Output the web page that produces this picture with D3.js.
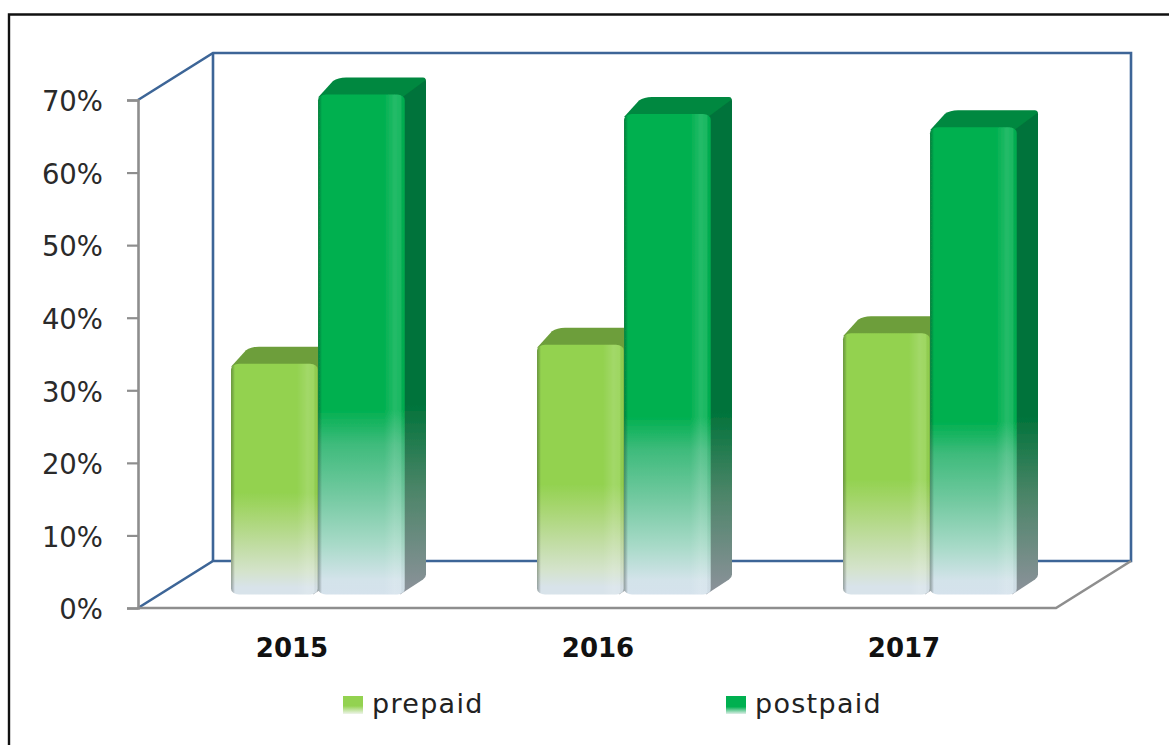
<!DOCTYPE html>
<html><head><meta charset="utf-8">
<script src="https://cdn.jsdelivr.net/npm/d3@7/dist/d3.min.js"></script>
<style>html,body{margin:0;padding:0;background:#fff}svg{display:block}</style>
</head><body><div id="c"></div>
<script>
const years = ["2015","2016","2017"];
const seriesNames = ["prepaid","postpaid"];
const prepaid = [31.8,34.4,36.0];
const postpaid = [68.9,66.2,64.4];
const yTicks = [0,10,20,30,40,50,60,70];

const W=1169,H=745;
const svg=d3.select("#c").append("svg").attr("width",W).attr("height",H);
const defs=svg.append("defs");

// layout
const plotL=138,plotR=1056,plotB=608,plotT=100;
const wallDX=75,wallDY=-47;        // depth of the chart box
const barDX=21,barDY=-17;          // depth of a column
const barShiftX=27;                // columns sit inside the box
const barBase=594.5;

const x=d3.scaleBand().domain(years).range([plotL,plotR]);
const y=d3.scaleLinear().domain([0,70]).range([plotB,plotT]);
const yBar=d3.scaleLinear().domain([0,70]).range([barBase,barBase-(plotB-plotT)]);
const xSub=d3.scaleBand().domain(seriesNames).range([66,240]);

// gradients
function vgrad(id,stops){
  const g=defs.append("linearGradient").attr("id",id).attr("x1",0).attr("y1",0).attr("x2",0).attr("y2",1);
  stops.forEach(s=>g.append("stop").attr("offset",s[0]).attr("stop-color",s[1]));
}
vgrad("face-prepaid",[[0,"#93d250"],[.56,"#93d250"],[.66,"#a8d672"],[.78,"#bfdc9f"],[.9,"#d4e3cb"],[.97,"#d8e3ea"],[1,"#d8e3ea"]]);
vgrad("face-postpaid",[[0,"#00b050"],[.63,"#00b050"],[.7,"#3fbb7c"],[.8,"#72c9a0"],[.9,"#a8dac8"],[.97,"#d3e3ea"],[1,"#d5e2ec"]]);
vgrad("side-prepaid",[[0,"#6d9e3a"],[.56,"#6d9e3a"],[1,"#8f959c"]]);
vgrad("side-postpaid",[[0,"#00733a"],[.63,"#00733a"],[.8,"#4d8569"],[1,"#8d929b"]]);
vgrad("leg-prepaid",[[0,"#93d250"],[.55,"#93d250"],[1,"#eef4ea"]]);
vgrad("leg-postpaid",[[0,"#00b050"],[.6,"#00b050"],[1,"#dfeee8"]]);
const sh=defs.append("linearGradient").attr("id","shade").attr("x1",0).attr("x2",1).attr("y1",0).attr("y2",0);
[[0,"#2c3a2c",.38],[.045,"#000",0],[.76,"#fff",0],[.88,"#fff",.14],[.95,"#fff",.1],[.985,"#000",.02],[1,"#2c3a2c",.22]]
 .forEach(s=>sh.append("stop").attr("offset",s[0]).attr("stop-color",s[1]).attr("stop-opacity",s[2]));
const blur=defs.append("filter").attr("id","soft").attr("x","-5%").attr("y","-5%").attr("width","110%").attr("height","110%");
blur.append("feGaussianBlur").attr("stdDeviation",0.55);

// frame (runs off the right and bottom of the picture)
svg.append("path").attr("d",d3.line()([[9,H+5],[9,14.5],[W+5,14.5]]))
  .attr("fill","none").attr("stroke","#111").attr("stroke-width",2.4);

// box
const blue="#3c6597",grey="#8e8e8e";
const line=d3.line();
const pr=x.range()[1], pl=x.range()[0], y0=y(0), y7=y(70);
const wall=svg.append("g").attr("fill","none").attr("stroke-width",2.6).attr("filter","url(#soft)");
wall.append("path").attr("stroke",blue).attr("d",line([[pl,y7],[pl+wallDX,y7+wallDY],[pr+wallDX,y7+wallDY],[pr+wallDX,y0+wallDY],[pl+wallDX,y0+wallDY],[pl,y0]]));
wall.append("path").attr("stroke",blue).attr("d",line([[pl+wallDX,y7+wallDY],[pl+wallDX,y0+wallDY]]));
wall.append("path").attr("stroke",grey).attr("d",line([[pl,y0],[pr,y0],[pr+wallDX,y0+wallDY]]));

// axes
const yAxis=d3.axisLeft(y).tickValues(yTicks).tickFormat(d=>d+"%").tickSize(11).tickPadding(24);
const gy=svg.append("g").attr("transform",`translate(${plotL},0)`).call(yAxis);
gy.selectAll("path.domain").attr("stroke",grey).attr("stroke-width",2.6);
gy.selectAll("line").attr("stroke",grey).attr("stroke-width",2.2);
gy.selectAll("text").attr("font-family","DejaVu Sans").attr("font-size",27.5).attr("fill","#2a2a2a").attr("dy","0.39em");

const xAxis=d3.axisBottom(x).tickSize(0).tickPadding(31);
const gx=svg.append("g").attr("transform",`translate(0,${plotB})`).call(xAxis);
gx.select("path.domain").remove();
gx.selectAll("text").attr("font-family","DejaVu Sans").attr("font-weight","bold").attr("font-size",26).attr("fill","#111").attr("dx",1);

// columns
const table=[{name:"prepaid",values:prepaid,top:"#6d9e3a"},{name:"postpaid",values:postpaid,top:"#00883f"}];
table.forEach(s=>{
  const g=svg.append("g").attr("class","series-"+s.name).attr("filter","url(#soft)");
  s.values.forEach((v,i)=>{
    const x0=x(years[i])+xSub(s.name)+barShiftX, x1=x0+xSub.bandwidth();
    const t=yBar(v), b=yBar(0);
    const bx=x1+barDX, tb=t+barDY;
    const c=g.append("g");
    // side
    const side=d3.path();
    side.moveTo(x1-6,t+2); side.lineTo(bx-3,tb+1); side.quadraticCurveTo(bx,tb,bx,tb+4);
    side.lineTo(bx,b+barDY-3); side.quadraticCurveTo(bx,b+barDY,bx-3,b+barDY+2);
    side.lineTo(x1-5,b); side.closePath();
    c.append("path").attr("d",side.toString()).attr("fill",`url(#side-${s.name})`);
    // top
    const top=d3.path();
    top.moveTo(x0,t+3); top.lineTo(x0+barDX-6,tb+3.5); top.quadraticCurveTo(x0+barDX-1,tb,x0+barDX+7,tb);
    top.lineTo(bx-3,tb); top.quadraticCurveTo(bx,tb,bx-1,tb+3);
    top.lineTo(x1-3,t+3); top.closePath();
    c.append("path").attr("d",top.toString()).attr("fill",s.top);
    // front
    c.append("rect").attr("x",x0).attr("y",t).attr("width",x1-x0).attr("height",b-t).attr("rx",8).attr("ry",6)
      .attr("fill",`url(#face-${s.name})`);
    c.append("rect").attr("x",x0).attr("y",t).attr("width",x1-x0).attr("height",b-t).attr("rx",8).attr("ry",6)
      .attr("fill","url(#shade)");
  });
});

// legend
const legX=d3.scaleOrdinal().domain(seriesNames).range([343,726]);
const leg=svg.append("g").selectAll("g").data(seriesNames).join("g").attr("transform",d=>`translate(${legX(d)},696)`);
leg.append("rect").attr("width",20).attr("height",18).attr("fill",d=>`url(#leg-${d})`);
leg.append("text").attr("x",29).attr("y",17).text(d=>d)
  .attr("font-family","DejaVu Sans").attr("font-size",27).attr("letter-spacing",1.3).attr("fill","#222");
</script></body></html>
